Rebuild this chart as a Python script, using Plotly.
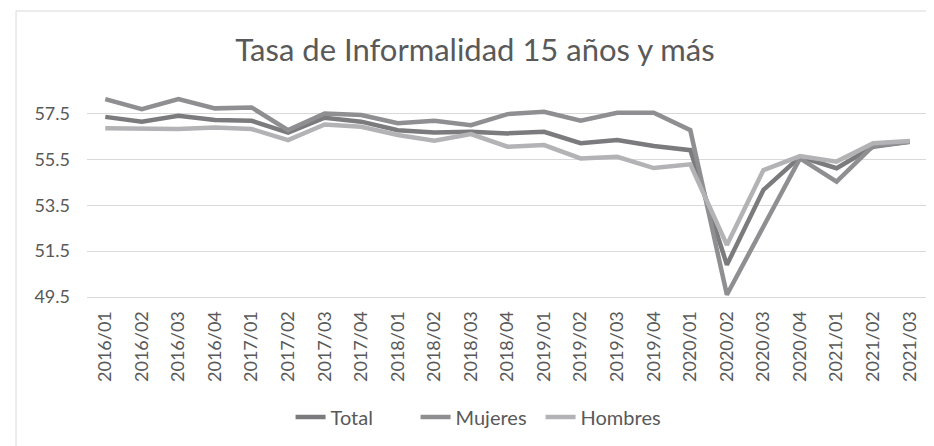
import plotly.graph_objects as go

INK = "#595959"; GRID = "#d9d9d9"
C_TOTAL = "#7b7b7d"; C_MUJ = "#8f8f92"; C_HOM = "#b3b3b5"
FONT = "Lato, 'Open Sans', sans-serif"

trimestres = ["2016/01", "2016/02", "2016/03", "2016/04", "2017/01", "2017/02", "2017/03", "2017/04",
              "2018/01", "2018/02", "2018/03", "2018/04", "2019/01", "2019/02", "2019/03", "2019/04",
              "2020/01", "2020/02", "2020/03", "2020/04", "2021/01", "2021/02", "2021/03"]
total = [57.35, 57.14, 57.40, 57.21, 57.18, 56.66, 57.31, 57.14, 56.77, 56.67, 56.70, 56.63,
         56.70, 56.20, 56.34, 56.08, 55.90, 50.90, 54.17, 55.61, 55.11, 56.05, 56.27]
mujeres = [58.12, 57.69, 58.12, 57.72, 57.76, 56.77, 57.50, 57.43, 57.07, 57.18, 56.99, 57.47,
           57.57, 57.18, 57.53, 57.53, 56.77, 49.60, 52.57, 55.54, 54.53, 56.08, 56.27]
hombres = [56.85, 56.82, 56.82, 56.89, 56.82, 56.34, 57.02, 56.92, 56.56, 56.31, 56.60, 56.05,
           56.12, 55.54, 55.61, 55.12, 55.28, 51.77, 55.03, 55.64, 55.40, 56.20, 56.30]

fig = go.Figure()
for name, ys, col in [("Total", total, C_TOTAL), ("Mujeres", mujeres, C_MUJ), ("Hombres", hombres, C_HOM)]:
    fig.add_trace(go.Scatter(x=trimestres, y=ys, name=name, mode="lines",
                             line=dict(color=col, width=4.5)))

# plot area: x 79..920, y ~78..297 (23 px per unit)
fig.update_layout(
    width=934, height=446,
    margin=dict(l=79, r=14, t=71, b=157),
    paper_bgcolor="white", plot_bgcolor="white",
    font=dict(family=FONT, color=INK, size=18),
    title=dict(text="Tasa de Informalidad 15 años y más", x=0.5, xanchor="center",
               y=0.905, yanchor="middle", font=dict(size=31, color=INK)),
    legend=dict(orientation="h", x=0.465, xanchor="center", y=-0.55, yanchor="middle",
                font=dict(size=20, color=INK), entrywidth=80, entrywidthmode="pixels"),
    shapes=[dict(type="rect", xref="paper", yref="paper", x0=-0.0844, x1=1.02,
                 y0=-0.75, y1=1.312, line=dict(color=GRID, width=1))],
)
fig.update_xaxes(type="category", range=[-0.5, 22.5], tickangle=-90, showgrid=False,
                 showline=True, linecolor=GRID, ticks="", ticklabelstandoff=6,
                 tickfont=dict(size=18, color=INK))
fig.update_yaxes(range=[49.5, 59.0], tick0=49.5, dtick=2, tickformat=".1f", showgrid=True,
                 gridcolor=GRID, gridwidth=1, zeroline=False, showline=False, ticks="",
                 ticklabelstandoff=16, tickfont=dict(size=18, color=INK))

fig.write_html("out.html")
